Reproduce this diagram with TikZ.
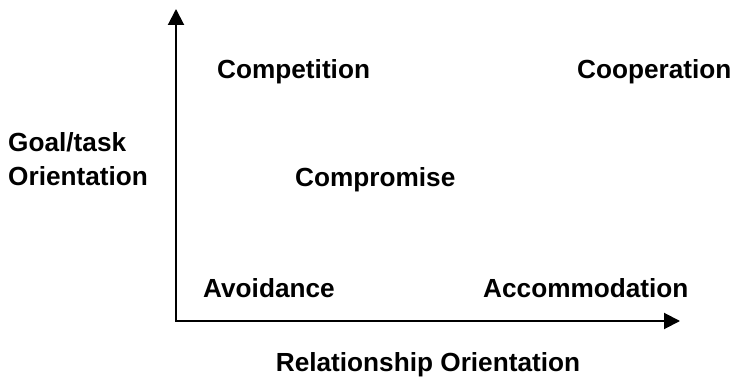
\documentclass[tikz,border=0pt]{standalone}
\usepackage{fontspec}
\setmainfont{Liberation Sans}
\usetikzlibrary{arrows.meta}
\begin{document}
\begin{tikzpicture}[x=1pt,y=1pt,
  lbl/.style={font=\fontsize{26.2}{34}\selectfont\bfseries, inner sep=0pt, anchor=base west},
  axis/.style={line width=2pt, -{Triangle[length=16pt,width=16pt]}}]
\useasboundingbox[fill=white] (0,0) rectangle (735,377);
\coordinate (origin) at (176,56);
\coordinate (ytip) at (176,368);
\coordinate (xtip) at (680,56);
\draw[axis] ([yshift=-1pt]origin) -- (ytip);
\draw[axis] ([xshift=-1pt]origin) -- (xtip);
\node[lbl] (competition) at (217,298) {Competition};
\node[lbl] (cooperation) at (577,298) {Cooperation};
\node[lbl] (compromise) at (295,190) {Compromise};
\node[lbl] (avoidance) at (203,79) {Avoidance};
\node[lbl] (accommodation) at (483,79) {Accommodation};
\node[lbl] (goal) at (8,225) {\vtop{\baselineskip=34pt\hbox{Goal/task}\hbox{Orientation}}};
\node[lbl, anchor=base] (relation) at (428,6) {Relationship Orientation};
\end{tikzpicture}
\end{document}
